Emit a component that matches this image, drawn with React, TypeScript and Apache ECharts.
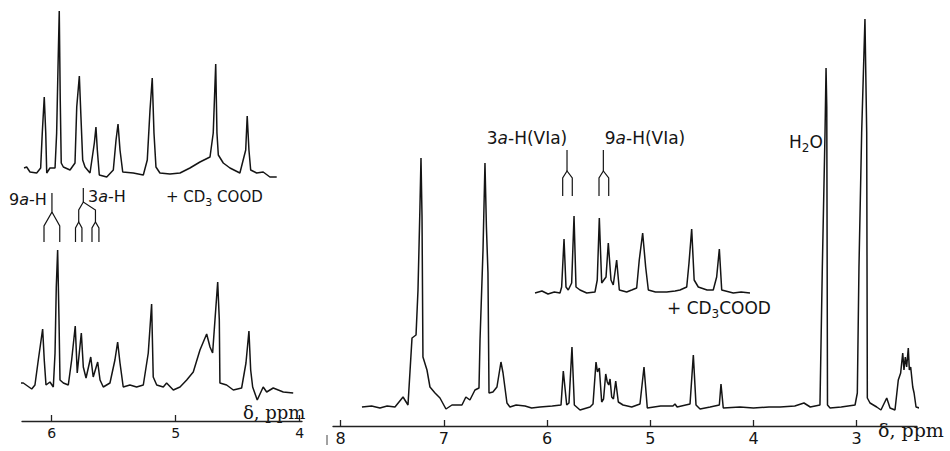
import React, { useEffect, useRef } from 'react';
import * as echarts from 'echarts';

// ---- tick labels (ppm) ----
const leftTicks = [6, 5, 4];
const rightTicks = [8, 7, 6, 5, 4, 3];

// ---- traces: [δ ppm, intensity] ----
// left panel, upper trace (+CD3COOD)
const leftTopTrace = [
  [6.223, 4], [6.202, 5], [6.175, 0], [6.121, -1], [6.089, 4], [6.076, 39], [6.060, 75], [6.048, 39], [6.040, -1],
  [6.014, 4], [5.973, 4], [5.960, 39], [5.949, 105], [5.939, 161], [5.931, 72], [5.923, 9], [5.906, 5], [5.852, 2],
  [5.812, 9], [5.798, 65], [5.777, 96], [5.764, 55], [5.750, 12], [5.731, 5], [5.691, -1], [5.656, 29], [5.643, 45],
  [5.632, 22], [5.616, -3], [5.556, -5], [5.503, 2], [5.481, 32], [5.465, 48], [5.449, 22], [5.427, 0], [5.342, -1],
  [5.261, -3], [5.229, 12], [5.207, 62], [5.189, 94], [5.175, 39], [5.159, 5], [5.127, -1], [5.046, -2], [4.965, -1],
  [4.885, 4], [4.804, 10], [4.723, 15], [4.697, 39], [4.677, 108], [4.667, 39], [4.656, 17], [4.616, 9], [4.562, 4],
  [4.482, -1], [4.435, 22], [4.423, 56], [4.409, 22], [4.395, 2], [4.347, -1], [4.294, 0], [4.240, -5], [4.185, -5],
];
// left panel, lower trace
const leftBottomTrace = [
  [6.296, 0], [6.229, 0], [6.161, -6], [6.135, -2], [6.108, 23], [6.073, 54], [6.060, 23], [6.046, -2], [6.014, 1],
  [5.987, -4], [5.973, 30], [5.963, 96], [5.952, 133], [5.941, 63], [5.933, 3], [5.906, 0], [5.866, -2], [5.839, 23],
  [5.810, 57], [5.794, 10], [5.761, 50], [5.745, 16], [5.723, 5], [5.685, 26], [5.665, 6], [5.629, 21], [5.610, 3],
  [5.584, -4], [5.530, 0], [5.490, 23], [5.468, 41], [5.449, 20], [5.423, -4], [5.369, -2], [5.315, -4], [5.261, -2],
  [5.221, 30], [5.194, 79], [5.181, 6], [5.153, -2], [5.100, -4], [5.073, 0], [5.019, -7], [4.965, -4], [4.911, 3],
  [4.858, 11], [4.804, 33], [4.750, 49], [4.723, 36], [4.702, 30], [4.683, 63], [4.661, 101], [4.648, 63], [4.643, 0],
  [4.589, -2], [4.535, -7], [4.468, -5], [4.433, 20], [4.409, 52], [4.395, 13], [4.379, -4], [4.342, -17], [4.294, -4],
  [4.266, -9], [4.213, -5], [4.132, -9], [4.052, -10],
];
// right panel, main trace
const mainTrace = [
  [7.794, 0], [7.70, 1], [7.62, -1], [7.55, 1], [7.474, 0], [7.396, 10], [7.348, 2], [7.309, 69], [7.270, 72],
  [7.251, 117], [7.232, 200], [7.222, 249], [7.212, 190], [7.203, 50], [7.164, 37], [7.135, 20], [7.086, 14],
  [7.038, 9], [6.980, -2], [6.922, 2], [6.825, 2], [6.787, 10], [6.748, 7], [6.699, 17], [6.660, 19], [6.650, 67],
  [6.621, 157], [6.602, 244], [6.588, 180], [6.573, 134], [6.563, 14], [6.525, 15], [6.486, 20], [6.447, 45],
  [6.427, 34], [6.389, 4], [6.360, 0], [6.30, 2], [6.214, 1], [6.15, -1], [6.069, 0], [5.95, 1], [5.865, 2],
  [5.843, 36], [5.810, 2], [5.788, 4], [5.759, 60], [5.736, 2], [5.681, -3], [5.584, 0], [5.555, 3], [5.526, 45],
  [5.512, 35], [5.494, 39], [5.471, 5], [5.453, 8], [5.432, 33], [5.417, 25], [5.403, 22], [5.390, 28], [5.374, 10],
  [5.357, 8], [5.335, 26], [5.310, 5], [5.264, 2], [5.18, 0], [5.100, 3], [5.061, 40], [5.029, -1], [4.90, 1],
  [4.780, 1], [4.761, 3], [4.74, 0], [4.615, 3], [4.583, 52], [4.557, 2], [4.518, -2], [4.42, 0], [4.331, 2],
  [4.315, 23], [4.293, -1], [4.131, 0], [4.0, -1], [3.85, 0], [3.743, 0], [3.60, 1], [3.511, 4], [3.45, 0],
  [3.356, 2], [3.333, 140], [3.307, 274], [3.297, 339], [3.290, 300], [3.283, 2], [3.258, -1], [3.15, 0],
  [3.016, 2], [2.994, 14], [2.978, 140], [2.952, 274], [2.920, 388], [2.903, 274], [2.897, 9], [2.871, 4],
  [2.806, 0], [2.765, -3], [2.709, 9], [2.677, -1], [2.629, -3], [2.597, 27], [2.574, 34], [2.554, 54], [2.542, 37],
  [2.529, 50], [2.516, 40], [2.500, 59], [2.490, 37], [2.477, 40], [2.457, 20], [2.444, 14], [2.425, 0],
  [2.393, -1], [2.355, 3], [2.322, -2], [2.297, -2],
];
// right panel, inset trace (+CD3COOD)
const insetTrace = [
  [6.117, 0], [6.05, 2], [5.991, -1], [5.93, 1], [5.875, 0], [5.859, 6], [5.836, 54], [5.817, 6], [5.795, 3],
  [5.762, 10], [5.739, 77], [5.720, 6], [5.681, 3], [5.616, 0], [5.536, 1], [5.514, 13], [5.494, 75], [5.471, 10],
  [5.429, 16], [5.407, 50], [5.381, 13], [5.359, 8], [5.326, 33], [5.300, 3], [5.229, 1], [5.18, 3], [5.132, 5],
  [5.107, 33], [5.074, 60], [5.045, 26], [5.019, 3], [4.95, 1], [4.841, 1], [4.76, 2], [4.712, 3], [4.647, 6],
  [4.625, 30], [4.599, 64], [4.575, 13], [4.535, 6], [4.45, 3], [4.390, 3], [4.357, 16], [4.331, 44], [4.308, 3],
  [4.196, 0], [4.12, 1], [4.034, 0],
];

// multiplet stick diagrams (ppm)
const stick9aLeft = { top: 5.998, legs: [6.062, 5.935] };
const stick3aLeft = { top: 5.745, mids: [5.782, 5.647], legs: [[5.808, 5.756], [5.675, 5.619]] };
const stick3aRight = { top: 5.807, legs: [5.849, 5.756] };
const stick9aRight = { top: 5.455, legs: [5.497, 5.403] };

const INK = '#141414';
const SANS = '"DejaVu Sans", sans-serif';
const SERIF = '"DejaVu Serif", serif';

function lineSeries(data: number[][], idx: number) {
  return {
    type: 'line',
    xAxisIndex: idx,
    yAxisIndex: idx,
    data,
    showSymbol: false,
    symbol: 'none',
    clip: false,
    silent: true,
    lineStyle: { color: INK, width: 1.5 },
  };
}

function xAxisBase(gridIndex: number, min: number, max: number, show: boolean, ticks: number[], fontSize: number, margin: number) {
  return {
    type: 'value',
    gridIndex,
    min,
    max,
    inverse: true,
    show,
    position: 'bottom',
    splitLine: { show: false },
    axisLine: { show: true, onZero: false, lineStyle: { color: '#222', width: 1.3 } },
    axisTick: { show: true, inside: true, length: 6, customValues: ticks, lineStyle: { color: '#222', width: 1.3 } },
    axisLabel: { show: true, customValues: ticks, color: INK, fontSize, fontFamily: SANS, margin },
  };
}

export default function App() {
  const ref = useRef<HTMLDivElement>(null);
  useEffect(() => {
    document.body.style.margin = '0';
    const chart = echarts.init(ref.current!, undefined, { renderer: 'svg' });
    const L0 = 3.981, L1 = 6.2395, R0 = 2.4157, R1 = 8.0746;
    chart.setOption({
      animation: false,
      backgroundColor: '#ffffff',
      grid: [
        { left: 22, right: 648, top: 5, bottom: 266 },
        { left: 22, right: 648, top: 230, bottom: 30 },
        { left: 333, right: 33, top: 16, bottom: 25 },
        { left: 333, right: 33, top: 16, bottom: 148 },
      ],
      xAxis: [
        xAxisBase(0, L0, L1, false, leftTicks, 14, 5),
        xAxisBase(1, L0, L1, true, leftTicks, 14, 5),
        xAxisBase(2, R0, R1, true, rightTicks, 16, 4),
        xAxisBase(3, R0, R1, false, rightTicks, 16, 4),
      ],
      yAxis: [
        { type: 'value', gridIndex: 0, min: -13, max: 167, show: false },
        { type: 'value', gridIndex: 1, min: -38, max: 153, show: false },
        { type: 'value', gridIndex: 2, min: -19, max: 391, show: false },
        { type: 'value', gridIndex: 3, min: -10, max: 277, show: false },
      ],
      series: [
        lineSeries(leftTopTrace, 0),
        lineSeries(leftBottomTrace, 1),
        lineSeries(mainTrace, 2),
        lineSeries(insetTrace, 3),
      ],
    });

    const px = (axis: number, ppm: number) => chart.convertToPixel({ xAxisIndex: axis }, ppm) as number;
    const stroke = { stroke: INK, lineWidth: 1.2, fill: 'none' };
    const pl = (points: number[][]) => ({ type: 'polyline', shape: { points }, style: stroke, silent: true });

    const g: any[] = [];
    // left 9a-H
    {
      const c = px(1, stick9aLeft.top);
      const a = px(1, stick9aLeft.legs[0]);
      const b = px(1, stick9aLeft.legs[1]);
      g.push(pl([[c, 193], [c, 212], [a, 226], [a, 242]]));
      g.push(pl([[c, 212], [b, 226], [b, 242]]));
    }
    // left 3a-H
    {
      const c = px(1, stick3aLeft.top);
      const m0 = px(1, stick3aLeft.mids[0]);
      const m1 = px(1, stick3aLeft.mids[1]);
      g.push(pl([[c, 188], [c, 202]]));
      g.push(pl([[m0, 222], [m0, 210], [c, 202], [m1, 210], [m1, 222]]));
      stick3aLeft.legs.forEach((pair, i) => {
        const m = i === 0 ? m0 : m1;
        const a = px(1, pair[0]);
        const b = px(1, pair[1]);
        g.push(pl([[a, 242], [a, 228], [m, 222], [b, 228], [b, 242]]));
      });
    }
    // right doublets
    [stick3aRight, stick9aRight].forEach((s) => {
      const c = px(2, s.top);
      const a = px(2, s.legs[0]);
      const b = px(2, s.legs[1]);
      g.push(pl([[c, 150], [c, 171]]));
      g.push(pl([[a, 196], [a, 178], [c, 171], [b, 178], [b, 196]]));
    });

    const txt = (x: number, y: number, text: string, fontSize: number, align: string, rich?: any, family = SANS) => ({
      type: 'text',
      x,
      y,
      silent: true,
      style: { text, fill: INK, fontSize, fontFamily: family, align, verticalAlign: 'middle', rich },
    });
    const richSet = (fs: number) => ({
      n: { fontSize: fs, fontFamily: SANS, color: INK, lineHeight: fs + 6 },
      i: { fontSize: fs, fontFamily: SANS, fontStyle: 'italic', color: INK, lineHeight: fs + 6 },
      s: { fontSize: Math.round(fs * 0.72), fontFamily: SANS, color: INK, lineHeight: fs + 6, verticalAlign: 'bottom' },
    });

    g.push(txt(9, 199, '{n|9}{i|a}{n|-H}', 16, 'left', richSet(16)));
    g.push(txt(88, 196, '{n|3}{i|a}{n|-H}', 16, 'left', richSet(16)));
    g.push(txt(166, 197, '{n|+ CD}{s|3}{n| COOD}', 15, 'left', richSet(15)));
    g.push(txt(527, 138, '{n|3}{i|a}{n|-H(VIa)}', 17, 'center', richSet(17)));
    g.push(txt(645, 138, '{n|9}{i|a}{n|-H(VIa)}', 17, 'center', richSet(17)));
    g.push(txt(789, 142, '{n|H}{s|2}{n|O}', 17, 'left', richSet(17)));
    g.push(txt(667, 308, '{n|+ CD}{s|3}{n|COOD}', 17, 'left', richSet(17)));
    g.push(txt(243, 412, 'δ, ppm', 18, 'left', undefined, SERIF));
    g.push(txt(878, 430, 'δ, ppm', 19, 'left', undefined, SERIF));
    g.push({ type: 'line', shape: { x1: 327, y1: 435, x2: 327, y2: 445 }, style: { stroke: '#444', lineWidth: 1 }, silent: true });

    chart.setOption({ graphic: g });
    return () => chart.dispose();
  }, []);
  return <div ref={ref} style={{ width: 950, height: 451 }} />;
}
